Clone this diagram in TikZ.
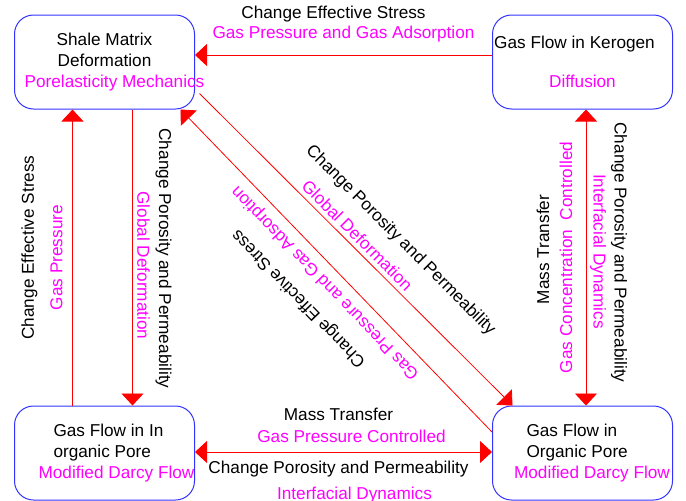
\documentclass[tikz,border=0pt]{standalone}
\usepackage{fontspec}
\setmainfont{Liberation Sans}
\usepackage{tikz}
\usetikzlibrary{arrows.meta, positioning}
\usepackage{xcolor}
\definecolor{boxblue}{RGB}{51,51,255}
\definecolor{labelmag}{RGB}{255,0,255}
\newcommand{\diagfont}{\fontsize{17.2pt}{20.6pt}\selectfont}

\begin{document}
\begin{tikzpicture}[
    x=1pt, y=-1pt,
    box/.style={
        draw=boxblue,
        rectangle,
        rounded corners=19pt,
        minimum width=180pt,
        minimum height=94pt,
        inner sep=0pt,
        line width=1pt,
        font=\diagfont,
        align=center
    },
    arrow/.style={
        -{Triangle[length=12pt,width=22pt]},
        red,
        line width=0.8pt
    },
    twoway/.style={
        {Triangle[length=12pt,width=22pt]}-{Triangle[length=12pt,width=22pt]},
        red,
        line width=0.8pt
    },
    note/.style={font=\diagfont, text=black, inner sep=0pt},
    mech/.style={font=\diagfont, text=labelmag, inner sep=0pt},
    node distance=296pt and 297pt
]
\useasboundingbox (0,0) rectangle (686,501);

% Top row
\node[box] (shale) at (104.5,62) {Shale Matrix\\Deformation\\\makebox[0pt]{\hspace*{20pt}\textcolor{labelmag}{Porelasticity Mechanics}}};
\node[box, right=of shale] (kerogen) {\makebox[0pt]{Gas Flow in Kerogen\hspace*{16pt}}\\[19pt]\textcolor{labelmag}{Diffusion}};

% Bottom row
\node[box, below=of shale] (inorg) {\makebox[102pt][l]{Gas Flow in In}\\\makebox[102pt][l]{organic Pore}\\\makebox[0pt]{\hspace*{24pt}\textcolor{labelmag}{Modified Darcy Flow}}};
\node[box, below=of kerogen] (org) {\makebox[112pt][l]{Gas Flow in}\\\makebox[112pt][l]{Organic Pore}\\\makebox[0pt]{\hspace*{19pt}\textcolor{labelmag}{Modified Darcy Flow}}};

% Kerogen -> Shale
\draw[arrow] ([yshift=7pt]kerogen.west) -- ([yshift=7pt]kerogen.west -| shale.east)
    node[midway, note, xshift=-10pt, yshift=41pt] {Change Effective Stress}
    node[midway, mech, yshift=21pt] {Gas Pressure and Gas Adsorption};

% Shale <-> Inorganic
\draw[arrow] ([xshift=-32pt]inorg.north) -- ([xshift=-32pt]inorg.north |- shale.south)
    node[midway, note, rotate=90, xshift=10pt, yshift=43pt] {Change Effective Stress}
    node[midway, mech, rotate=90, yshift=16pt] {Gas Pressure};
\draw[arrow] ([xshift=28pt]shale.south) -- ([xshift=28pt]shale.south |- inorg.north)
    node[midway, note, rotate=-90, xshift=1pt, yshift=31pt] {Change Porosity and Permeability}
    node[midway, mech, rotate=-90, xshift=8pt, yshift=11pt] {Global Deformation};

% Kerogen <-> Organic
\draw[twoway] ([xshift=3.5pt]kerogen.south) -- ([xshift=3.5pt]kerogen.south |- org.north)
    node[midway, note, rotate=90, xshift=8pt, yshift=43pt] {Mass Transfer}
    node[midway, mech, rotate=90, yshift=20pt] {Gas Concentration\ \ Controlled}
    node[midway, note, rotate=-90, xshift=-5pt, yshift=33pt] {Change Porosity and Permeability}
    node[midway, mech, rotate=-90, xshift=-6pt, yshift=12pt] {Interfacial Dynamics};

% Diagonals
\draw[arrow] ([xshift=4.5pt, yshift=16pt]shale.south east) -- ([xshift=20.5pt]org.north west)
    node[midway, note, rotate=-45, xshift=25pt, yshift=38pt] {Change Porosity and Permeability}
    node[midway, mech, rotate=-45, xshift=-9pt, yshift=11pt] {Global Deformation};
\draw[arrow] ([yshift=21pt]org.west) -- ([xshift=-14.5pt]shale.south east)
    node[midway, note, rotate=134, xshift=6pt, yshift=46pt] {Change Effective Stress}
    node[midway, mech, rotate=134, xshift=-1pt, yshift=16pt] {Gas Pressure and Gas Adsorption};

% Inorganic <-> Organic
\draw[twoway] ([yshift=1pt]inorg.east) -- ([yshift=1pt]inorg.east -| org.west)
    node[midway, note, xshift=-5pt, yshift=38pt] {Mass Transfer}
    node[midway, mech, xshift=8pt, yshift=16pt] {Gas Pressure Controlled}
    node[midway, note, xshift=-5pt, yshift=-17pt] {Change Porosity and Permeability}
    node[midway, mech, xshift=11pt, yshift=-43pt] {Interfacial Dynamics};

\end{tikzpicture}
\end{document}
